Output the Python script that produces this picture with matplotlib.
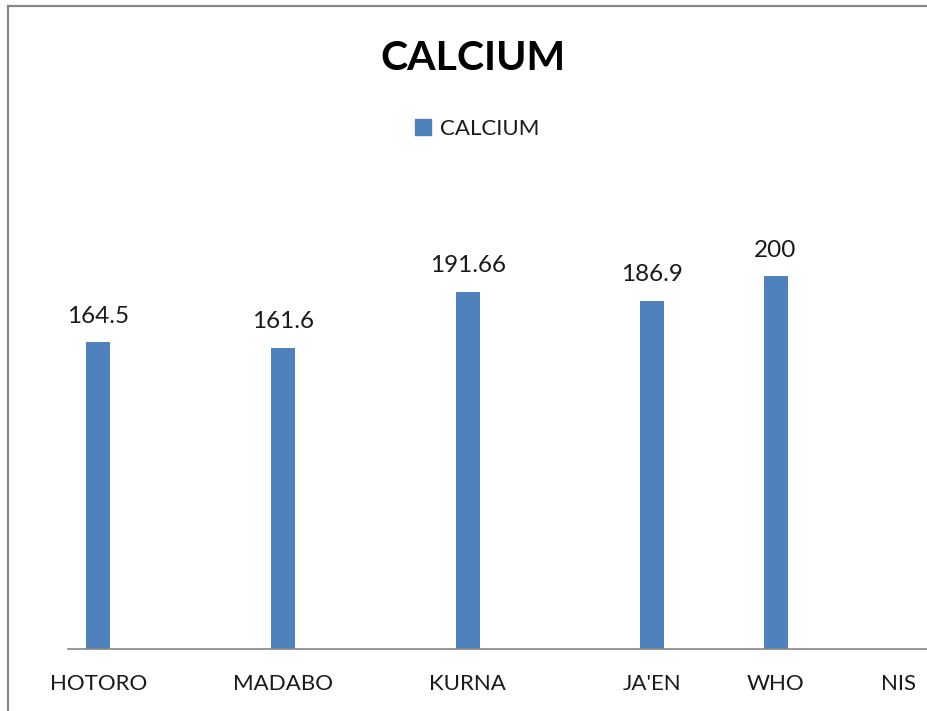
import numpy as np
import matplotlib
matplotlib.use("Agg")
import matplotlib.pyplot as plt
from matplotlib.lines import Line2D
from matplotlib.patches import Patch

plt.rcParams['font.family'] = ['Lato', 'DejaVu Sans']

# calcium readings per site; NIS has no reading
sites = ["HOTORO", "MADABO", "KURNA", "JA'EN", "WHO", "NIS"]
calcium = [164.5, 161.6, 191.66, 186.9, 200, np.nan]
value_labels = ["164.5", "161.6", "191.66", "186.9", "200", ""]

# category slots along the axis (blank categories sit in between)
slots = [0, 3, 6, 9, 11, 13]

bar_color = "#4F81BD"
grey = "#868686"

W, H = 927, 711
fig = plt.figure(figsize=(W / 100, H / 100), dpi=100)

# plot area in pixels: left 68, bottom 649, top 183, runs off the right edge
ax = fig.add_axes([68 / W, (H - 649) / H, (W - 68) / W, (649 - 183) / H])
ax.bar(slots, calcium, width=0.39, color=bar_color, zorder=2)
ax.set_xlim(-0.49, 13.46)
ax.set_ylim(0, 250)

for x, v, s in zip(slots, calcium, value_labels):
    if s:
        ax.annotate(s, (x, v), xytext=(0, 11), textcoords="offset points",
                    ha="center", va="bottom", fontsize=17.5, color="#1a1a1a")

ax.set_xticks(slots)
ax.set_xticklabels(sites, fontsize=16, color="#1a1a1a")
ax.tick_params(axis="x", length=0, pad=18)
ax.set_yticks([])
for side in ["left", "right", "top"]:
    ax.spines[side].set_visible(False)
ax.spines["bottom"].set_color(grey)
ax.spines["bottom"].set_linewidth(1.2)

# chart title and legend
fig.text(473 / W, 1 - 58 / H, "CALCIUM", ha="center", va="center",
         fontsize=29.5, fontweight="bold", color="black")
fig.legend(handles=[Patch(color=bar_color, label="CALCIUM")],
           loc="center", bbox_to_anchor=(477 / W, 1 - 129 / H),
           frameon=False, fontsize=16, handlelength=0.7, handleheight=0.7,
           handletextpad=0.4, labelcolor="#1a1a1a")

# outer chart border (top and left edges visible)
fig.add_artist(Line2D([8 / W, 8 / W], [0, 1 - 6 / H], transform=fig.transFigure,
                      color="#888888", linewidth=1.6))
fig.add_artist(Line2D([8 / W, 1], [1 - 6 / H, 1 - 6 / H], transform=fig.transFigure,
                      color="#888888", linewidth=1.6))

fig.savefig("out.png", dpi=100)
